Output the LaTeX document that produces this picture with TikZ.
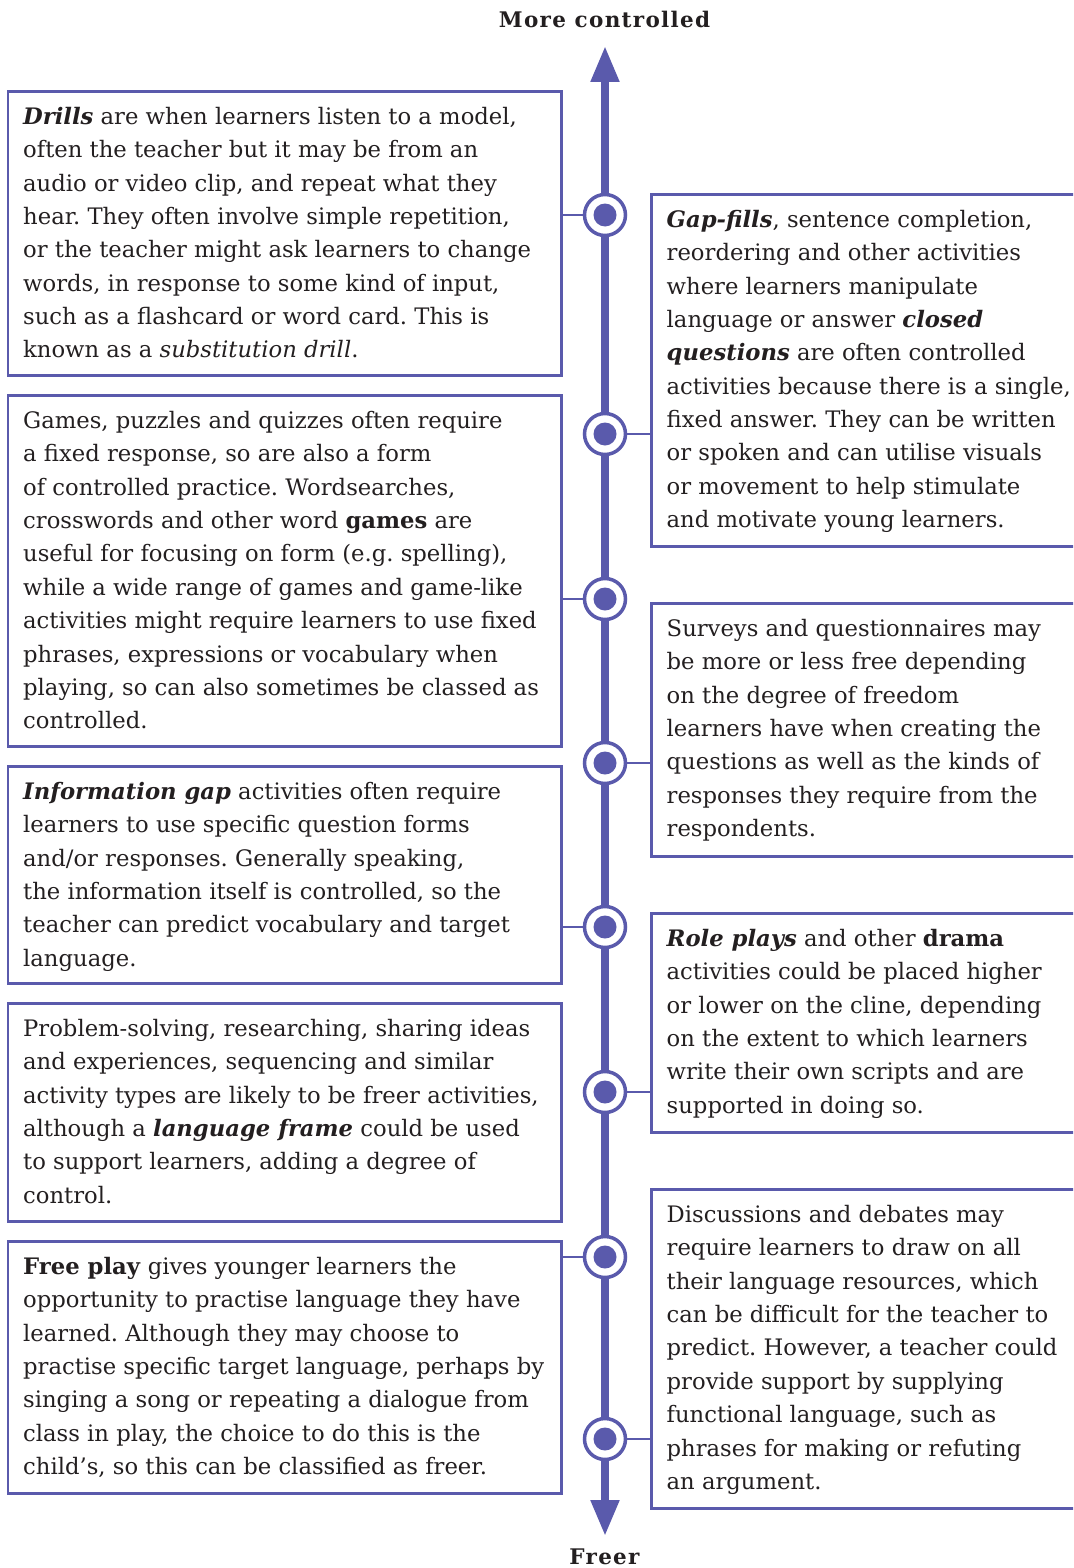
\documentclass[tikz,border=0pt]{standalone}
\usepackage{fontspec}
\setmainfont{DejaVu Serif}
\usetikzlibrary{arrows.meta}
\definecolor{cline}{RGB}{90,90,172}
\definecolor{ink}{RGB}{35,31,32}
\newcommand{\bi}[1]{\textbf{\textit{#1}}}
\frenchspacing
\tikzset{
  boxL/.style={draw=cline, line width=2.6pt, anchor=north west, minimum width=553.5pt, inner sep=0pt},
  boxR/.style={draw=cline, line width=2.6pt, anchor=north west, minimum width=500pt, inner sep=0pt},
  txt/.style={anchor=north west, inner sep=0pt, align=left, text=ink,
    font=\fontsize{22.7}{33.35}\selectfont},
  title/.style={inner sep=0pt, text=ink, font=\fontsize{21.5}{24}\selectfont\bfseries\addfontfeature{LetterSpace=6}},
  conn/.style={draw=cline, line width=2.6pt},
  dot/.style={circle, draw=cline, line width=3.5pt, fill=white, minimum size=41pt, inner sep=0pt,
    path picture={\fill[cline] (path picture bounding box.center) circle (11.5pt);}},
  axis/.style={draw=cline, line width=8pt, {Triangle[width=27pt,length=36pt]}-{Triangle[width=27pt,length=36pt]}}
}
\begin{document}
\begin{tikzpicture}[x=1pt,y=-1pt]
\useasboundingbox (0,0) rectangle (1073,1568);
\clip (0,0) rectangle (1073,1568);
% titles
\node[title, anchor=base] (top title) at (604.5,28) {More controlled};
\node[title, anchor=base] (bottom title) at (604.5,1564) {Freer};
% axis
\coordinate (axtop) at (605,46);
\coordinate (axbot) at (605,1536);
\draw[axis] (axbot) -- (axtop);
% boxes
\node[boxL, minimum height=284pt] (L1) at (6.5,90) {};
\node[boxL, minimum height=351pt] (L2) at (6.5,394) {};
\node[boxL, minimum height=217pt] (L3) at (6.5,765) {};
\node[boxL, minimum height=218pt] (L4) at (6.5,1002) {};
\node[boxL, minimum height=252pt] (L5) at (6.5,1240) {};
\node[boxR, minimum height=352pt] (R1) at (650,193) {};
\node[boxR, minimum height=253pt] (R2) at (650,602) {};
\node[boxR, minimum height=219pt] (R3) at (650,912) {};
\node[boxR, minimum height=319pt] (R4) at (650,1188) {};
% circles
\node[dot] (C1) at (605,215) {};
\node[dot] (C2) at (605,434) {};
\node[dot] (C3) at (605,599) {};
\node[dot] (C4) at (605,763) {};
\node[dot] (C5) at (605,927) {};
\node[dot] (C6) at (605,1092) {};
\node[dot] (C7) at (605,1257) {};
\node[dot] (C8) at (605,1439) {};
% connectors
\draw[conn] (C1.west) -- (C1.west -| L1.east);
\draw[conn] (C2.east) -- (C2.east -| R1.west);
\draw[conn] (C3.west) -- (C3.west -| L2.east);
\draw[conn] (C4.east) -- (C4.east -| R2.west);
\draw[conn] (C5.west) -- (C5.west -| L3.east);
\draw[conn] (C6.east) -- (C6.east -| R3.west);
\draw[conn] (C7.west) -- (C7.west -| L5.east);
\draw[conn] (C8.east) -- (C8.east -| R4.west);
% texts
\node[txt] (T1) at ([shift={(16.5,11)}]L1.north west) {\strut\bi{Drills} are when learners listen to a model,\\
often the teacher but it may be from an\\
audio or video clip, and repeat what they\\
hear. They often involve simple repetition,\\
or the teacher might ask learners to change\\
words, in response to some kind of input,\\
such as a flashcard or word card. This is\\
known as a \textit{substitution drill}.\strut};
\node[txt] (T2) at ([shift={(16.5,11)}]L2.north west) {\strut Games, puzzles and quizzes often require\\
a fixed response, so are also a form\\
of controlled practice. Wordsearches,\\
crosswords and other word \textbf{games} are\\
useful for focusing on form (e.g. spelling),\\
while a wide range of games and game-like\\
activities might require learners to use fixed\\
phrases, expressions or vocabulary when\\
playing, so can also sometimes be classed as\\
controlled.\strut};
\node[txt] (T3) at ([shift={(16.5,11)}]L3.north west) {\strut\bi{Information gap} activities often require\\
learners to use specific question forms\\
and/or responses. Generally speaking,\\
the information itself is controlled, so the\\
teacher can predict vocabulary and target\\
language.\strut};
\node[txt] (T4) at ([shift={(16.5,11)}]L4.north west) {\strut Problem-solving, researching, sharing ideas\\
and experiences, sequencing and similar\\
activity types are likely to be freer activities,\\
although a \bi{language frame} could be used\\
to support learners, adding a degree of\\
control.\strut};
\node[txt] (T5) at ([shift={(16.5,11)}]L5.north west) {\strut\textbf{Free play} gives younger learners the\\
opportunity to practise language they have\\
learned. Although they may choose to\\
practise specific target language, perhaps by\\
singing a song or repeating a dialogue from\\
class in play, the choice to do this is the\\
child’s, so this can be classified as freer.\strut};
\node[txt] (T6) at ([shift={(16.5,11)}]R1.north west) {\strut\bi{Gap-fills}, sentence completion,\\
reordering and other activities\\
where learners manipulate\\
language or answer \bi{closed}\\
\bi{questions} are often controlled\\
activities because there is a single,\\
fixed answer. They can be written\\
or spoken and can utilise visuals\\
or movement to help stimulate\\
and motivate young learners.\strut};
\node[txt] (T7) at ([shift={(16.5,11)}]R2.north west) {\strut Surveys and questionnaires may\\
be more or less free depending\\
on the degree of freedom\\
learners have when creating the\\
questions as well as the kinds of\\
responses they require from the\\
respondents.\strut};
\node[txt] (T8) at ([shift={(16.5,11)}]R3.north west) {\strut\bi{Role plays} and other \textbf{drama}\\
activities could be placed higher\\
or lower on the cline, depending\\
on the extent to which learners\\
write their own scripts and are\\
supported in doing so.\strut};
\node[txt] (T9) at ([shift={(16.5,11)}]R4.north west) {\strut Discussions and debates may\\
require learners to draw on all\\
their language resources, which\\
can be difficult for the teacher to\\
predict. However, a teacher could\\
provide support by supplying\\
functional language, such as\\
phrases for making or refuting\\
an argument.\strut};
\end{tikzpicture}
\end{document}
